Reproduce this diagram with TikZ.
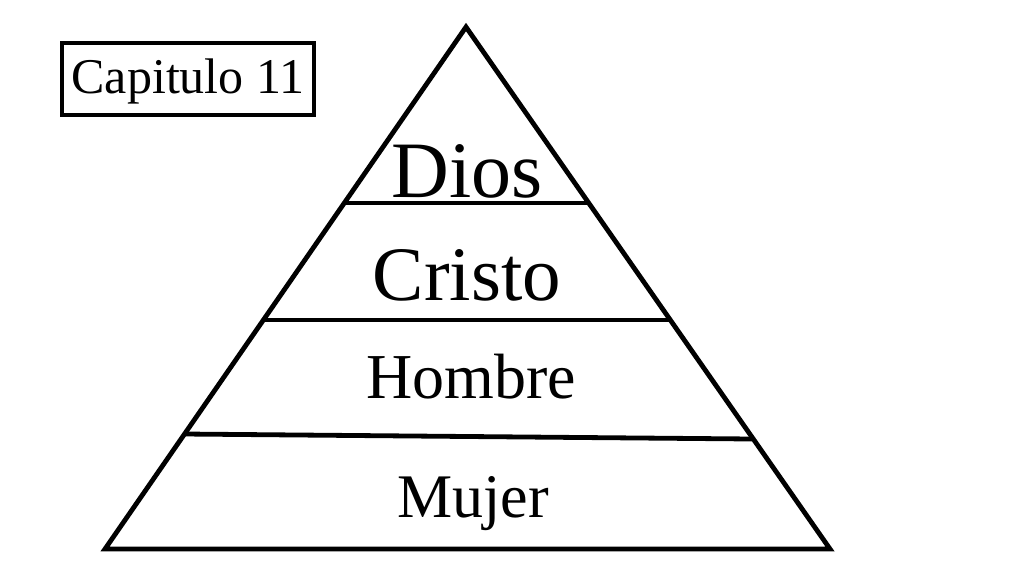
\documentclass[tikz,border=0pt]{standalone}
\usepackage{fontspec}
\setmainfont{Liberation Serif}
\begin{document}
\begin{tikzpicture}[x=1pt,y=-1pt,
  edge/.style={line width=4.8pt,line join=miter},
  lbl/.style={anchor=base,inner sep=0pt}]
\useasboundingbox[fill=white] (0,0) rectangle (1024,576);
\coordinate (apex) at (466,27);
\coordinate (bl) at (105,549);
\coordinate (br) at (830,549);
\coordinate (a1) at (344,203);
\coordinate (a2) at (589,203);
\coordinate (b1) at (263,320);
\coordinate (b2) at (670,320);
\coordinate (c1) at (184,434);
\coordinate (c2) at (752,439);
\draw[edge] (apex) -- (bl) -- (br) -- cycle;
\draw[edge] (a1) -- (a2);
\draw[edge] (b1) -- (b2);
\draw[edge] (c1) -- (c2);
\node[draw,line width=4.8pt,minimum width=252pt,minimum height=72pt,inner sep=0pt] (cap) at (188,79) {};
\node[lbl,font=\fontsize{50}{54}\selectfont] (capt) at (188,93) {Capitulo 11};
\node[lbl,font=\fontsize{80}{84}\selectfont] (dios) at (467,197) {Dios};
\node[lbl,font=\fontsize{77}{80}\selectfont] (cristo) at (467,300) {Cristo};
\node[lbl,font=\fontsize{64}{68}\selectfont] (hombre) at (471,398) {Hombre};
\node[lbl,font=\fontsize{62}{66}\selectfont] (mujer) at (473,517) {Mujer};
\end{tikzpicture}
\end{document}
